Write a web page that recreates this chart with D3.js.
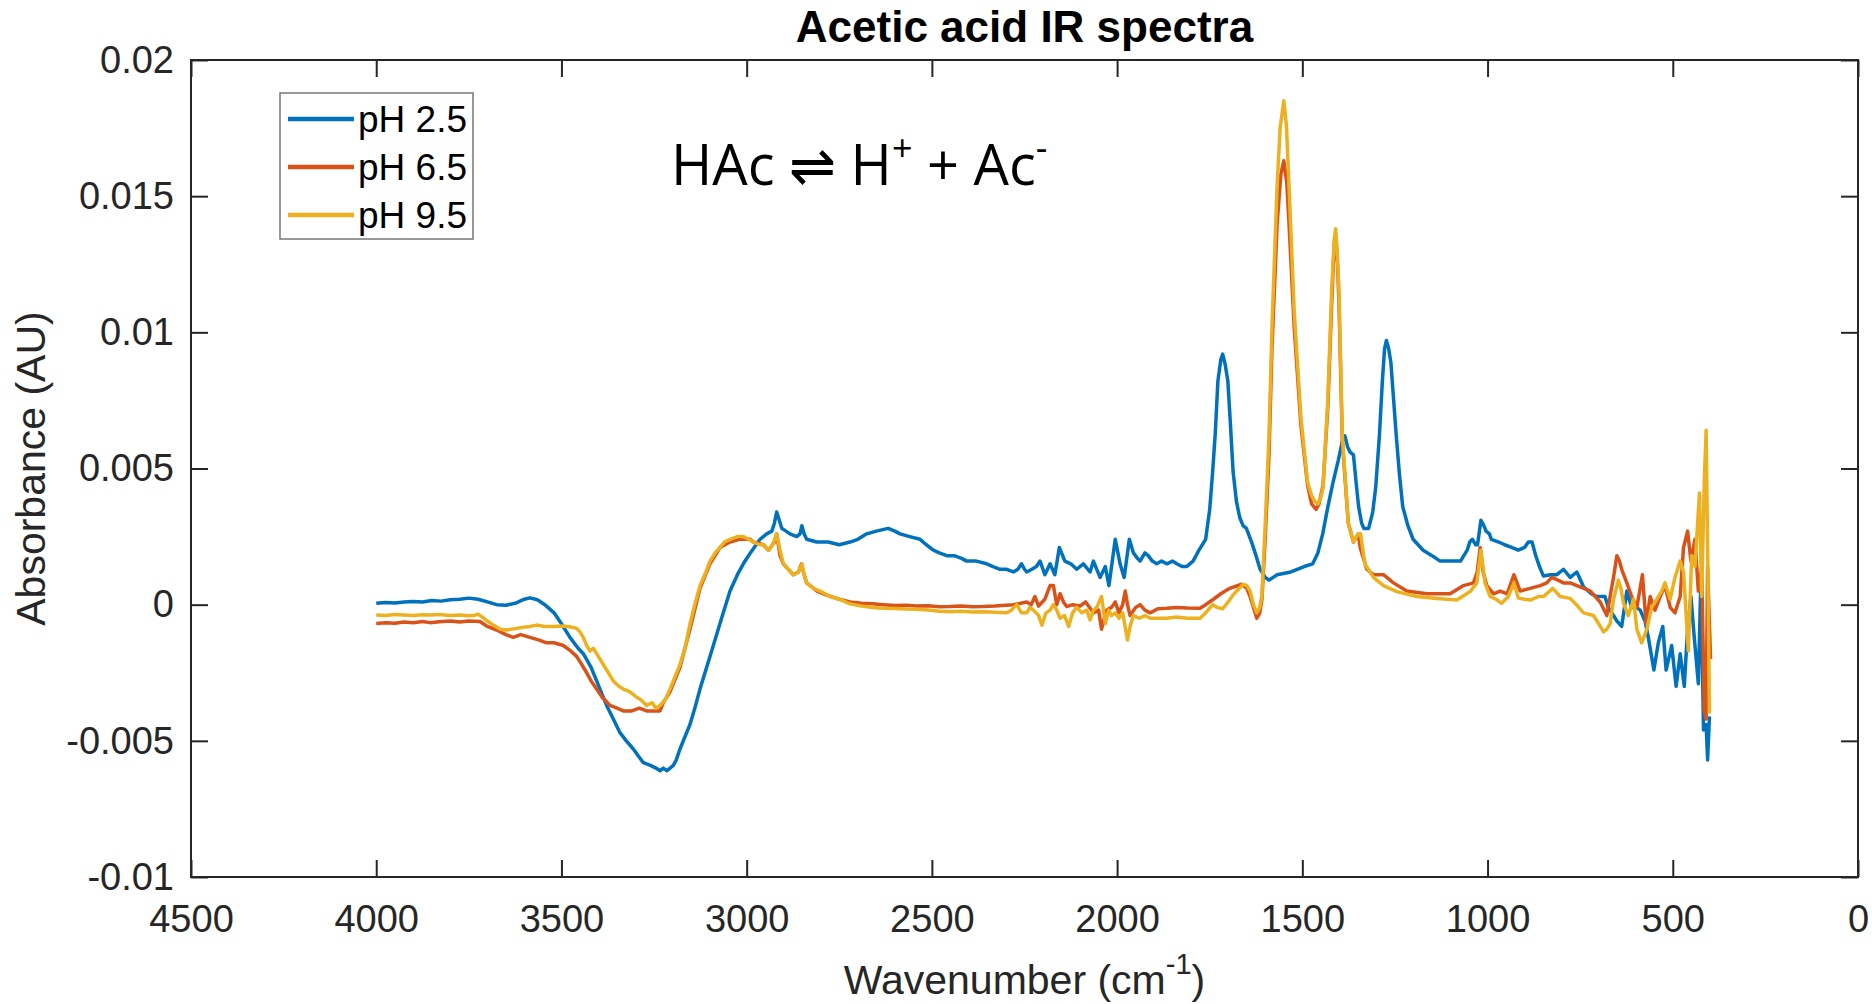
<!doctype html>
<html>
  <head>
    <script src="https://cdnjs.cloudflare.com/ajax/libs/d3/7.8.5/d3.min.js"></script>
    <style>
      body { margin: 0; background: #fff; }
      text { font-family: "Liberation Sans", Arial, sans-serif; }
    </style>
  </head>
  <body>
    <svg id="chart" width="1872" height="1004"></svg>
    <script>
        // spectra: [wavenumber cm-1, absorbance AU]
        var ph25 = [
            [4000,0.00005],[3975,0.00008],[3950,0.00006],[3925,0.0001],[3900,0.00012],[3875,0.0001],[3850,0.00015],
            [3825,0.00013],[3800,0.00018],[3775,0.0002],[3750,0.00024],[3725,0.0002],[3700,0.0001],[3675,0.0],
            [3650,-0.00002],[3625,0.00005],[3600,0.0002],[3585,0.00025],[3565,0.00018],[3545,0.0],[3520,-0.0003],
            [3500,-0.0007],[3477,-0.0012],[3455,-0.0016],[3441,-0.0018],[3420,-0.0023],[3405,-0.0028],[3390,-0.0033],
            [3378,-0.0037],[3360,-0.0042],[3342,-0.0047],[3325,-0.005],[3306,-0.0053],[3290,-0.0056],[3279,-0.0058],
            [3260,-0.0059],[3245,-0.006],[3234,-0.0061],[3225,-0.006],[3215,-0.0061],[3198,-0.0059],[3190,-0.0057],
            [3180,-0.0053],[3165,-0.0048],[3153,-0.0044],[3140,-0.0038],[3126,-0.0031],[3108,-0.0023],[3090,-0.0015],
            [3070,-0.0006],[3045,0.0005],[3025,0.0011],[3009,0.0015],[2990,0.0019],[2964,0.0024],[2946,0.0026],
            [2932,0.0027],[2925,0.003],[2919,0.0034],[2912,0.0031],[2905,0.0028],[2883,0.0026],[2865,0.0025],
            [2856,0.0026],[2851,0.0029],[2845,0.0026],[2838,0.0024],[2811,0.0023],[2780,0.0023],[2750,0.0022],
            [2721,0.0023],[2700,0.0024],[2676,0.0026],[2650,0.0027],[2618,0.0028],[2600,0.0027],[2586,0.0026],
            [2560,0.0025],[2532,0.0024],[2515,0.0022],[2496,0.002],[2480,0.0019],[2460,0.0018],[2440,0.0018],
            [2420,0.0017],[2406,0.0016],[2380,0.0016],[2352,0.0015],[2335,0.0014],[2316,0.0013],[2298,0.0013],
            [2280,0.0012],[2268,0.0013],[2258,0.0015],[2250,0.0013],[2244,0.0012],[2230,0.0013],[2218,0.0014],
            [2208,0.0016],[2195,0.0011],[2181,0.0015],[2168,0.0011],[2156,0.0021],[2141,0.0016],[2125,0.0015],
            [2109,0.0013],[2091,0.0015],[2073,0.0012],[2064,0.0016],[2046,0.001],[2032,0.0014],[2022,0.0007],
            [2005,0.0024],[1992,0.0015],[1981,0.001],[1967,0.0024],[1956,0.0019],[1945,0.0017],[1938,0.0016],
            [1925,0.0019],[1916,0.0018],[1905,0.0016],[1893,0.0015],[1880,0.0016],[1866,0.0015],[1850,0.0016],
            [1839,0.0015],[1825,0.0014],[1812,0.0014],[1795,0.0016],[1779,0.002],[1761,0.0024],[1750,0.0035],
            [1742,0.0049],[1735,0.0063],[1728,0.0082],[1720,0.009],[1715,0.0092],[1708,0.0088],[1701,0.0082],
            [1694,0.0066],[1687,0.0049],[1678,0.0038],[1669,0.0032],[1660,0.0029],[1651,0.0028],[1637,0.0023],
            [1625,0.0018],[1614,0.0013],[1600,0.001],[1590,0.0009],[1568,0.0011],[1531,0.0012],[1495,0.0014],
            [1472,0.0015],[1458,0.0019],[1445,0.0026],[1431,0.0036],[1417,0.0045],[1403,0.0053],[1392,0.006],
            [1385,0.0062],[1378,0.0058],[1371,0.0056],[1362,0.0055],[1355,0.0045],[1348,0.0036],[1340,0.003],
            [1334,0.0028],[1321,0.0028],[1310,0.0034],[1302,0.0043],[1292,0.0062],[1284,0.0082],[1278,0.0094],
            [1273,0.0097],[1267,0.0094],[1261,0.0089],[1254,0.0076],[1247,0.0063],[1238,0.0048],[1229,0.0036],
            [1215,0.0029],[1201,0.0024],[1174,0.002],[1150,0.0018],[1128,0.0016],[1100,0.0016],[1073,0.0016],
            [1055,0.002],[1048,0.0023],[1041,0.0024],[1032,0.0022],[1027,0.0022],[1018,0.0031],[1010,0.0029],
            [1004,0.0027],[995,0.0026],[990,0.0024],[970,0.0023],[954,0.0022],[935,0.0021],[917,0.002],
            [900,0.0021],[890,0.0023],[880,0.0023],[870,0.0018],[860,0.0014],[849,0.00105],[830,0.0011],
            [813,0.0011],[795,0.0013],[777,0.001],[759,0.0012],[741,0.00066],[720,0.0004],[705,0.0003],
            [683,0.0003],[674,-0.0001],[660,-0.0004],[651,-0.0006],[638,-0.0008],[624,0.0005],[611,-0.0001],
            [598,-0.0001],[588,-0.0002],[575,-0.0006],[566,-0.0012],[551,-0.0024],[539,-0.0014],[527,-0.0008],
            [518,-0.0024],[503,-0.0015],[491,-0.003],[480,-0.0018],[469,-0.003],[460,-0.0009],[451,0.0003],
            [442,-0.0012],[431,-0.0029],[424,0.001],[417,-0.0046],[410,-0.0044],[406,-0.0057],[401,-0.0041]
        ];
        var ph65 = [
            [4000,-0.00069],[3975,-0.00066],[3950,-0.00068],[3925,-0.00064],[3900,-0.00066],[3875,-0.00062],
            [3855,-0.00066],[3830,-0.00063],[3800,-0.0006],[3775,-0.00064],[3750,-0.0006],[3720,-0.00062],
            [3700,-0.0008],[3675,-0.00093],[3650,-0.0011],[3630,-0.0012],[3610,-0.0011],[3585,-0.0012],
            [3560,-0.0013],[3540,-0.0014],[3520,-0.0014],[3495,-0.0015],[3475,-0.0017],[3459,-0.0019],
            [3445,-0.0022],[3432,-0.0025],[3420,-0.0028],[3405,-0.0031],[3390,-0.0034],[3369,-0.0037],
            [3350,-0.0038],[3333,-0.0039],[3310,-0.0039],[3290,-0.0038],[3270,-0.0039],[3250,-0.0039],
            [3234,-0.0039],[3225,-0.0036],[3207,-0.0032],[3180,-0.0023],[3153,-0.0009],[3126,0.0006],
            [3099,0.0015],[3072,0.0021],[3045,0.0023],[3020,0.0024],[3009,0.0024],[2990,0.0024],[2982,0.0023],
            [2955,0.0022],[2941,0.002],[2925,0.0023],[2919,0.0026],[2910,0.0018],[2901,0.0015],[2874,0.0011],
            [2860,0.0012],[2852,0.0015],[2845,0.0011],[2838,0.0008],[2810,0.0005],[2784,0.00035],[2750,0.0002],
            [2721,0.0001],[2690,0.00005],[2660,0.00003],[2631,0.0],[2600,-0.00003],[2570,-0.00002],[2541,-0.00005],
            [2510,-0.00004],[2480,-0.00008],[2451,-0.00007],[2420,-0.00005],[2390,-0.00008],[2361,-0.00007],
            [2330,-0.00005],[2300,-0.00002],[2280,0.0],[2260,0.00005],[2244,0.0001],[2232,0.0],[2222,0.0003],
            [2212,-0.00005],[2195,0.0002],[2181,0.0007],[2172,0.0007],[2163,0.0],[2154,0.0004],[2145,0.0001],
            [2136,-0.00007],[2120,0.0],[2100,-0.00005],[2085,0.0001],[2064,-0.0003],[2050,-0.0002],[2042,-0.0009],
            [2035,-0.0005],[2028,-0.0002],[2015,-0.0001],[2005,0.0001],[1995,-0.0003],[1985,0.0],[1978,0.0005],
            [1972,0.0],[1965,-0.0004],[1950,-0.0001],[1938,0.0],[1925,-0.0002],[1911,-0.0003],[1890,-0.00015],
            [1866,-0.00013],[1840,-0.0001],[1810,-0.00012],[1776,-0.00013],[1761,0.0],[1740,0.0002],[1720,0.0004],
            [1696,0.0006],[1664,0.00075],[1650,0.0006],[1641,0.0003],[1632,-0.0001],[1623,-0.0005],[1615,-0.0003],
            [1609,0.0002],[1600,0.0025],[1590,0.0055],[1582,0.0094],[1568,0.014],[1558,0.0158],[1550,0.0163],
            [1542,0.0155],[1536,0.014],[1522,0.0102],[1504,0.0066],[1486,0.0044],[1475,0.0037],[1463,0.0035],
            [1455,0.0037],[1444,0.0044],[1431,0.0073],[1421,0.011],[1414,0.0132],[1410,0.0135],[1405,0.0125],
            [1401,0.011],[1392,0.006],[1376,0.003],[1362,0.0023],[1349,0.0026],[1344,0.0021],[1326,0.0013],
            [1308,0.0011],[1281,0.0011],[1254,0.0008],[1218,0.0005],[1164,0.0004],[1101,0.0004],[1065,0.0007],
            [1038,0.0008],[1028,0.0012],[1020,0.0021],[1012,0.0012],[1002,0.0007],[984,0.0004],[966,0.0005],
            [947,0.0004],[929,0.0011],[912,0.0005],[885,0.0006],[858,0.0007],[840,0.0008],[827,0.001],
            [810,0.0009],[795,0.0008],[777,0.0008],[759,0.0007],[740,0.0006],[723,0.0005],[696,0.0001],
            [678,-0.0004],[668,0.0004],[660,0.001],[651,0.0018],[644,0.0016],[638,0.0013],[624,0.0008],
            [611,0.0003],[597,-0.0001],[582,0.0011],[572,-0.0007],[561,0.0003],[548,-0.0002],[534,0.0003],
            [521,0.0007],[507,-0.0001],[494,-0.0003],[480,0.0003],[471,0.0021],[460,0.0027],[451,0.0016],
            [440,0.0024],[431,0.0005],[422,0.0014],[415,-0.0039],[410,-0.0042],[406,0.0014],[398,-0.002]
        ];
        var ph95 = [
            [4000,-0.00038],[3975,-0.0004],[3950,-0.00036],[3925,-0.00038],[3900,-0.0004],[3875,-0.00037],
            [3855,-0.00038],[3830,-0.00036],[3800,-0.0004],[3775,-0.00038],[3750,-0.00041],[3738,-0.0004],
            [3725,-0.00035],[3715,-0.00044],[3700,-0.0006],[3684,-0.00075],[3665,-0.0009],[3648,-0.00093],
            [3625,-0.00088],[3603,-0.00083],[3585,-0.0008],[3567,-0.00075],[3545,-0.0008],[3522,-0.0008],
            [3495,-0.00078],[3475,-0.00082],[3459,-0.00087],[3450,-0.001],[3441,-0.0012],[3432,-0.0015],
            [3423,-0.0017],[3414,-0.0016],[3405,-0.0018],[3396,-0.002],[3378,-0.0024],[3360,-0.0028],
            [3345,-0.003],[3333,-0.0031],[3315,-0.0032],[3297,-0.0034],[3285,-0.0035],[3270,-0.0037],
            [3255,-0.0036],[3245,-0.0038],[3234,-0.0037],[3220,-0.0035],[3207,-0.0031],[3195,-0.0027],
            [3180,-0.0022],[3165,-0.0015],[3153,-0.0007],[3140,0.0],[3126,0.0007],[3110,0.0012],[3099,0.0016],
            [3085,0.0019],[3072,0.0021],[3060,0.0023],[3045,0.0024],[3025,0.0025],[3009,0.0025],[2995,0.0024],
            [2982,0.0023],[2965,0.0022],[2955,0.0022],[2941,0.002],[2930,0.0022],[2919,0.0026],[2910,0.002],
            [2901,0.0015],[2888,0.0013],[2874,0.0011],[2860,0.0012],[2851,0.0015],[2845,0.0011],[2838,0.0008],
            [2820,0.0006],[2802,0.0005],[2775,0.0003],[2750,0.0002],[2721,0.00003],[2690,-0.00005],[2660,-0.0001],
            [2631,-0.00013],[2600,-0.00014],[2570,-0.00016],[2541,-0.00017],[2510,-0.0002],[2480,-0.00024],
            [2451,-0.00026],[2420,-0.00024],[2390,-0.00027],[2361,-0.00026],[2330,-0.00028],[2298,-0.0003],
            [2285,-0.0002],[2271,0.0],[2258,-0.0003],[2244,-0.0003],[2235,-0.0001],[2226,-0.0002],[2212,-0.0004],
            [2203,-0.00075],[2192,-0.0003],[2181,-0.0002],[2172,0.0],[2163,-0.0002],[2154,-0.0005],[2142,-0.0004],
            [2131,-0.0008],[2120,-0.0003],[2109,-0.0001],[2095,-0.0003],[2082,-0.0002],[2073,-0.00056],
            [2064,-0.0002],[2055,-0.0001],[2042,0.0003],[2032,-0.0007],[2023,-0.0002],[2015,-0.0004],
            [2005,-0.0003],[1995,-0.0005],[1985,-0.0003],[1972,-0.0013],[1965,-0.0008],[1956,-0.0004],
            [1940,-0.0005],[1925,-0.0004],[1911,-0.0005],[1890,-0.0005],[1866,-0.0005],[1840,-0.00045],
            [1810,-0.0005],[1776,-0.0005],[1761,-0.0003],[1742,0.0],[1730,-0.0001],[1715,-0.00015],[1700,0.0001],
            [1687,0.00036],[1670,0.0006],[1660,0.00075],[1650,0.0007],[1641,0.0005],[1632,0.0],[1623,-0.0003],
            [1615,-0.0001],[1609,0.00036],[1600,0.003],[1590,0.0062],[1582,0.0102],[1568,0.0154],[1560,0.0175],
            [1550,0.0185],[1543,0.0176],[1536,0.0154],[1522,0.0108],[1504,0.0069],[1486,0.0045],[1475,0.004],
            [1467,0.0038],[1458,0.0037],[1451,0.0039],[1444,0.0043],[1431,0.0076],[1421,0.0115],[1414,0.0134],
            [1410,0.0138],[1406,0.013],[1401,0.0115],[1392,0.0062],[1376,0.003],[1362,0.0023],[1349,0.0026],
            [1343,0.0026],[1331,0.0015],[1308,0.001],[1281,0.0007],[1245,0.00048],[1191,0.0003],[1137,0.00023],
            [1083,0.00017],[1047,0.00048],[1029,0.0008],[1018,0.002],[1007,0.0008],[993,0.0003],[977,0.0002],
            [962,0.00005],[944,0.0003],[929,0.0008],[917,0.00024],[900,0.0002],[885,0.00017],[862,0.0003],
            [849,0.0003],[824,0.0006],[804,0.0003],[777,0.00023],[760,0.0],[741,-0.0003],[714,-0.0004],
            [700,-0.0007],[687,-0.001],[678,-0.0009],[669,-0.0007],[660,0.0002],[647,0.0009],[640,0.0006],
            [633,0.00005],[620,-0.0004],[606,0.0002],[597,-0.0009],[584,-0.0014],[570,-0.0009],[557,-0.0001],
            [543,0.0002],[530,0.0005],[521,0.0008],[507,0.0002],[494,0.001],[480,0.0016],[471,0.0012],
            [458,-0.0017],[449,0.0018],[440,0.0014],[428,0.0041],[422,0.0003],[415,0.0045],[410,0.0064],
            [405,0.001],[401,-0.004]
        ];

        var seriesNames = ["pH 2.5", "pH 6.5", "pH 9.5"];
        var seriesColors = ["#0072BD", "#D95319", "#EDB120"];
        var xTicks = [4500, 4000, 3500, 3000, 2500, 2000, 1500, 1000, 500, 0];
        var yTicks = [-0.01, -0.005, 0, 0.005, 0.01, 0.015, 0.02];

        var svg = d3.select("#chart");
        var L = 191, R = 1858, T = 60, B = 877;
        var axisColor = "#262626";

        var xScale = d3.scaleLinear().domain([4500, 0]).range([L, R]);
        var yScale = d3.scaleLinear().domain([-0.01, 0.02]).range([B, T]);

        // axes, MATLAB style: ticks pointing inward, box all round
        var xAxis = d3.axisBottom(xScale).tickValues(xTicks).tickSizeInner(-17).tickSizeOuter(0)
                        .tickPadding(28).tickFormat(d => String(d));
        var yAxis = d3.axisLeft(yScale).tickValues(yTicks).tickSizeInner(-17).tickSizeOuter(0)
                        .tickPadding(17).tickFormat(d => String(d));
        var xTop = d3.axisTop(xScale).tickValues(xTicks).tickSizeInner(-17).tickSizeOuter(0).tickFormat("");
        var yRight = d3.axisRight(yScale).tickValues(yTicks).tickSizeInner(-17).tickSizeOuter(0).tickFormat("");

        var gx = svg.append("g").attr("transform", "translate(0," + B + ")").call(xAxis);
        var gy = svg.append("g").attr("transform", "translate(" + L + ",0)").call(yAxis);
        var gt = svg.append("g").attr("transform", "translate(0," + T + ")").call(xTop);
        var gr = svg.append("g").attr("transform", "translate(" + R + ",0)").call(yRight);

        [gx, gy, gt, gr].forEach(function(g) {
            g.select(".domain").remove();
            g.selectAll(".tick line").attr("stroke", axisColor).attr("stroke-width", 2);
            g.selectAll(".tick text").attr("fill", axisColor)
                .style("font-size", "38px").style("font-family", "'Liberation Sans', Arial, sans-serif");
        });

        // spectra
        var line = d3.line().x(d => xScale(d[0])).y(d => yScale(d[1]));
        [ph25, ph65, ph95].forEach(function(data, i) {
            svg.append("path")
                .attr("d", line(data))
                .style("fill", "none")
                .style("stroke", seriesColors[i])
                .style("stroke-width", "3.5px")
                .style("stroke-linejoin", "round");
        });

        svg.append("rect")
            .attr("x", L).attr("y", T).attr("width", R - L).attr("height", B - T)
            .style("fill", "none").style("stroke", axisColor).style("stroke-width", "2px");

        // title and axis labels
        svg.append("text").attr("x", (L + R) / 2).attr("y", 42)
            .attr("text-anchor", "middle").style("font-size", "44px").style("font-weight", "bold")
            .text("Acetic acid IR spectra");

        svg.append("text")
            .attr("transform", "translate(45," + ((T + B) / 2) + ") rotate(-90)")
            .attr("text-anchor", "middle").attr("fill", axisColor).style("font-size", "41px")
            .text("Absorbance (AU)");

        var xl = svg.append("text").attr("x", (L + R) / 2).attr("y", 994)
            .attr("text-anchor", "middle").attr("fill", axisColor).style("font-size", "41px");
        xl.append("tspan").text("Wavenumber (cm");
        xl.append("tspan").attr("dy", -20).style("font-size", "29px").text("-1");
        xl.append("tspan").attr("dy", 20).text(")");

        // reaction annotation
        var ann = svg.append("text").attr("x", 671).attr("y", 185)
            .style("font-family", "'Open Sans', sans-serif").style("font-size", "56px").attr("fill", "#000");
        ann.append("tspan").text("HAc \u21CC H");
        ann.append("tspan").attr("dy", -24).style("font-size", "36px").text("+");
        ann.append("tspan").attr("dy", 24).text(" + Ac");
        ann.append("tspan").attr("dy", -24).style("font-size", "36px").text("-");

        // legend
        var lg = svg.append("g");
        lg.append("rect").attr("x", 280).attr("y", 93).attr("width", 193).attr("height", 146)
            .style("fill", "#fff").style("stroke", "#777").style("stroke-width", "1.5px");
        seriesNames.forEach(function(name, i) {
            var yy = 119 + i * 48;
            lg.append("line").attr("x1", 288).attr("x2", 354).attr("y1", yy).attr("y2", yy)
                .style("stroke", seriesColors[i]).style("stroke-width", "4.5px");
            lg.append("text").attr("x", 358).attr("y", yy).attr("dy", "0.36em")
                .style("font-size", "37px").attr("fill", "#000").text(name);
        });
    </script>
  </body>
</html>
